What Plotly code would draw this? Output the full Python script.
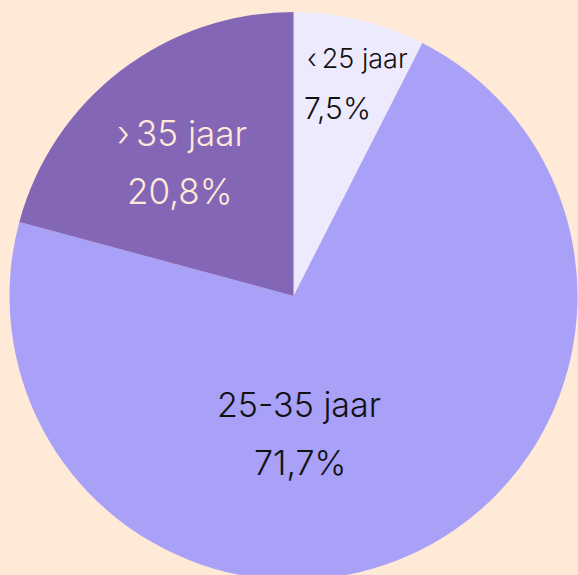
import plotly.graph_objects as go

# Data
categories = ["< 25 jaar", "25-35 jaar", "> 35 jaar"]
shares = [7.5, 71.7, 20.8]
pct_labels = ["7,5%", "71,7%", "20,8%"]

# Styling / layout (not data)
slice_colors = ["#EEEAFE", "#A9A0F8", "#8466B7"]
text_colors = ["#111111", "#111111", "#FFE9D7"]
bg = "#FFE9D7"

W, H = 578, 592
cx, cy, r = 293.5, 296.0, 284.0

fig = go.Figure(go.Pie(
    labels=categories,
    values=shares,
    sort=False,
    direction="clockwise",
    rotation=0,
    marker=dict(colors=slice_colors, line=dict(width=0)),
    textinfo="none",
    hovertemplate="%{label}: %{customdata}<extra></extra>",
    customdata=pct_labels,
    showlegend=False,
    domain=dict(x=[(cx - r) / W, (cx + r) / W], y=[1 - (cy + r) / H, 1 - (cy - r) / H]),
))

# label placement (pixel positions of text centres / anchors) and sizes
label_pos = [(305, 58, "left"), (299, 404, "center"), (182, 133, "center")]
pct_pos = [(302, 108, "left"), (300, 462, "center"), (180, 191, "center")]
label_size = [27, 34, 35]
pct_size = [30, 34, 35]

font_family = "Inter, Roboto, sans-serif"
for i, cat in enumerate(categories):
    txt = cat.replace("< ", "‹\u2009").replace("> ", "›\u2009")
    lx, ly, la = label_pos[i]
    px, py, pa = pct_pos[i]
    fig.add_annotation(x=lx / W, y=1 - ly / H, xref="paper", yref="paper",
                       text=txt, showarrow=False, xanchor=la, yanchor="middle",
                       font=dict(family=font_family, size=label_size[i], color=text_colors[i], weight=350))
    fig.add_annotation(x=px / W, y=1 - py / H, xref="paper", yref="paper",
                       text=pct_labels[i], showarrow=False, xanchor=pa, yanchor="middle",
                       font=dict(family=font_family, size=pct_size[i], color=text_colors[i], weight=350))

fig.update_layout(
    width=W, height=H,
    margin=dict(l=0, r=0, t=0, b=0),
    paper_bgcolor=bg, plot_bgcolor=bg,
    font=dict(family=font_family),
)

fig.write_html(
    "out.html",
    config={"displayModeBar": False},
    post_script="document.body.style.margin='0';document.body.style.background='#FFE9D7';"
                "document.documentElement.style.overflow='hidden';document.body.style.overflow='hidden';",
)
